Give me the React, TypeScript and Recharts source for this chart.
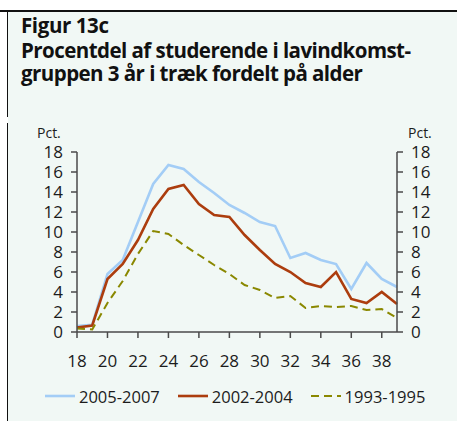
import { Legend, Line, LineChart, XAxis, YAxis } from 'recharts';

// Age of the student (years), one point per year
const ages = [18, 19, 20, 21, 22, 23, 24, 25, 26, 27, 28, 29, 30, 31, 32, 33, 34, 35, 36, 37, 38, 39];
// Percent of students in the low-income group three years running
const s2005 = [0.6, 0.73, 5.8, 7.2, 11.0, 14.8, 16.7, 16.3, 15.0, 13.9, 12.7, 11.9, 11.0, 10.6, 7.4, 7.9, 7.2, 6.8, 4.3, 6.9, 5.3, 4.5];
const s2002 = [0.45, 0.65, 5.3, 6.8, 9.2, 12.3, 14.3, 14.7, 12.8, 11.7, 11.5, 9.7, 8.2, 6.8, 6.0, 4.9, 4.5, 6.0, 3.3, 2.9, 4.0, 2.8];
const s1993 = [0.35, 0.25, 2.9, 5.1, 7.8, 10.1, 9.8, 8.7, 7.7, 6.7, 5.8, 4.7, 4.2, 3.4, 3.6, 2.4, 2.6, 2.5, 2.6, 2.2, 2.3, 1.4];
const xTicks = [18, 20, 22, 24, 26, 28, 30, 32, 34, 36, 38];
const yTicks = [0, 2, 4, 6, 8, 10, 12, 14, 16, 18];
const seriesNames = ['2005-2007', '2002-2004', '1993-1995'];

const data = ages.map((age, i) => ({ age, a: s2005[i], b: s2002[i], c: s1993[i] }));

const FONT = '"Open Sans", sans-serif';
const BG = '#f1f8f5';
const AXIS = '#4a4a4a';
const tickStyle = { fill: '#1c1c1c', fontSize: 17, fontFamily: FONT };

// the two y axes share one scale; the dashed series is bound to the right one so it gets drawn
const series = [
  { key: 'a', name: seriesNames[0], color: '#a3cdf6', dash: undefined as string | undefined, width: 2.6, axis: 'l' },
  { key: 'b', name: seriesNames[1], color: '#ac3d0e', dash: undefined as string | undefined, width: 2.6, axis: 'l' },
  { key: 'c', name: seriesNames[2], color: '#8a8800', dash: '8 5', width: 2, axis: 'r' },
];

function PctLabel({ viewBox, dx }: { viewBox?: { x: number; y: number }; dx: number }) {
  if (!viewBox) return null;
  return (
    <text x={viewBox.x + dx} y={viewBox.y - 14} fill="#1c1c1c" fontSize={14} fontFamily={FONT}>Pct.</text>
  );
}

function LegendRow() {
  return (
    <div style={{ display: 'flex', alignItems: 'center', height: 22, fontFamily: FONT, fontSize: 16.5, color: '#1c1c1c' }}>
      {series.map((s) => (
        <span key={s.key} style={{ display: 'inline-flex', alignItems: 'center', marginRight: 18 }}>
          <svg width={30} height={6} style={{ marginRight: 4 }}>
            <line x1={0} y1={3} x2={30} y2={3} stroke={s.color} strokeWidth={s.width} strokeDasharray={s.dash ? '8 5' : undefined} />
          </svg>
          {s.name}
        </span>
      ))}
    </div>
  );
}

const titleStyle = {
  position: 'absolute' as const, left: 21, fontFamily: FONT, fontWeight: 700, color: '#111', whiteSpace: 'nowrap' as const,
};

export default function App() {
  return (
    <div style={{ position: 'absolute', left: 0, top: 0, width: 457, height: 421, background: '#fff', overflow: 'hidden' }}>
      <div style={{ position: 'absolute', left: 8, top: 11, right: 0, bottom: 0, background: BG }} />
      <div style={{ position: 'absolute', left: 0, top: 9.5, width: 457, height: 2, background: '#111' }} />
      <div style={{ position: 'absolute', left: 6.5, top: 10, width: 1.6, height: 107, background: '#111' }} />
      <div style={{ position: 'absolute', left: 6.5, top: 123, width: 1.6, height: 298, background: '#111' }} />
      <div style={{ ...titleStyle, top: 12, fontSize: 20.5, lineHeight: '26px', letterSpacing: -0.4 }}>Figur 13c</div>
      <div style={{ ...titleStyle, top: 39, fontSize: 20.5, lineHeight: '22px', letterSpacing: -0.55 }}>
        Procentdel af studerende i lavindkomst-
      </div>
      <div style={{ ...titleStyle, top: 61.5, fontSize: 20.5, lineHeight: '22px', letterSpacing: -0.55 }}>
        gruppen 3 år i træk fordelt på alder
      </div>
      <div style={{ position: 'absolute', left: 0, top: 0 }}>
        <LineChart width={457} height={421} data={data} margin={{ top: 152, right: 0, bottom: 0, left: 0 }}>
          <XAxis
            dataKey="age" type="number" domain={[18, 39]} ticks={xTicks} interval={0}
            height={67} tickSize={6} tickMargin={17} tick={tickStyle}
            axisLine={{ stroke: AXIS, strokeWidth: 1.5 }} tickLine={{ stroke: AXIS, strokeWidth: 1.5 }}
          />
          <YAxis
            yAxisId="l" domain={[0, 18]} ticks={yTicks} interval={0} width={77} tickSize={6} tickMargin={8}
            tick={tickStyle} axisLine={{ stroke: AXIS, strokeWidth: 1.5 }} tickLine={{ stroke: AXIS, strokeWidth: 1.5 }}
            label={(p: any) => <PctLabel viewBox={p.viewBox} dx={37} />}
          />
          <YAxis
            yAxisId="r" orientation="right" domain={[0, 18]} ticks={yTicks} interval={0} width={60} tickSize={6} tickMargin={8}
            tick={tickStyle} axisLine={{ stroke: AXIS, strokeWidth: 1.5 }} tickLine={{ stroke: AXIS, strokeWidth: 1.5 }}
            label={(p: any) => <PctLabel viewBox={p.viewBox} dx={11} />}
          />
          <Legend verticalAlign="bottom" wrapperStyle={{ left: 45, bottom: 14, width: 'auto' }} content={() => <LegendRow />} />
          {series.map((s) => (
            <Line
              key={s.key} yAxisId={s.axis} type="linear" dataKey={s.key} name={s.name} stroke={s.color}
              strokeWidth={s.width} strokeDasharray={s.dash} dot={false} activeDot={false} isAnimationActive={false}
            />
          ))}
        </LineChart>
      </div>
    </div>
  );
}
